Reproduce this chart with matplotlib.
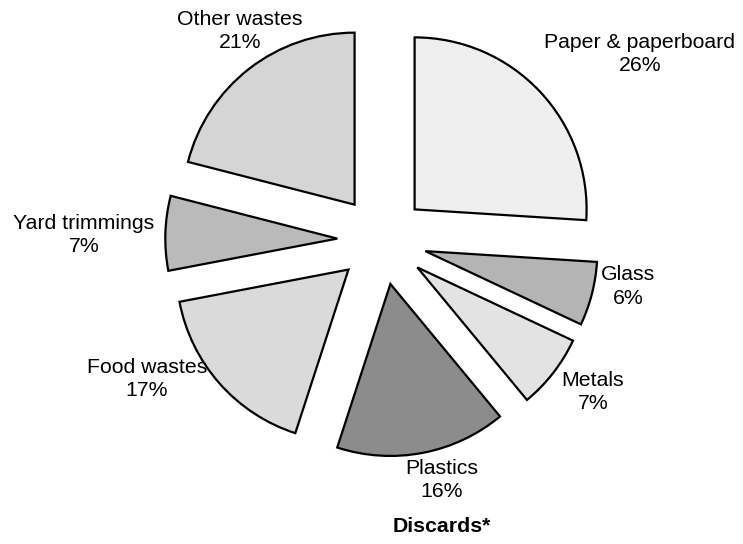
import matplotlib.pyplot as plt

plt.rcParams['font.family'] = ['Liberation Sans', 'DejaVu Sans']

# Data
categories = ['Paper & paperboard', 'Glass', 'Metals', 'Plastics',
              'Food wastes', 'Yard trimmings', 'Other wastes']
shares = [26, 6, 7, 16, 17, 7, 21]
title = 'Discards*'

# Styles
face_colors = ['#efefef', '#b4b4b4', '#e3e3e3', '#8c8c8c',
               '#dadada', '#bababa', '#d5d5d5']
label_pos = [(1.50, 1.08), (1.43, -0.27), (1.227, -0.884), (0.349, -1.395),
             (-1.366, -0.808), (-1.733, 0.029), (-0.826, 1.215)]

fig = plt.figure(figsize=(7.43, 5.44), dpi=100, facecolor='white')
ax = fig.add_axes([0, 0, 1, 1])

wedges, _ = ax.pie(shares, startangle=90, counterclock=False,
                   explode=[0.26] * len(shares), radius=1,
                   colors=face_colors,
                   wedgeprops=dict(edgecolor='black', linewidth=1.6))

for cat, val, (x, y) in zip(categories, shares, label_pos):
    ax.text(x, y, f'{cat}\n{val}%', ha='center', va='center',
            fontsize=15.3, linespacing=1.3)

ax.text(0.349, -1.663, title, ha='center', va='center',
        fontsize=15.3, fontweight='bold')

ax.set_xlim(-382 / 172, (743 - 382) / 172)
ax.set_ylim(-304 / 172, 240 / 172)
ax.set_aspect('equal')
ax.axis('off')

fig.savefig('out.png', dpi=100, facecolor='white')
